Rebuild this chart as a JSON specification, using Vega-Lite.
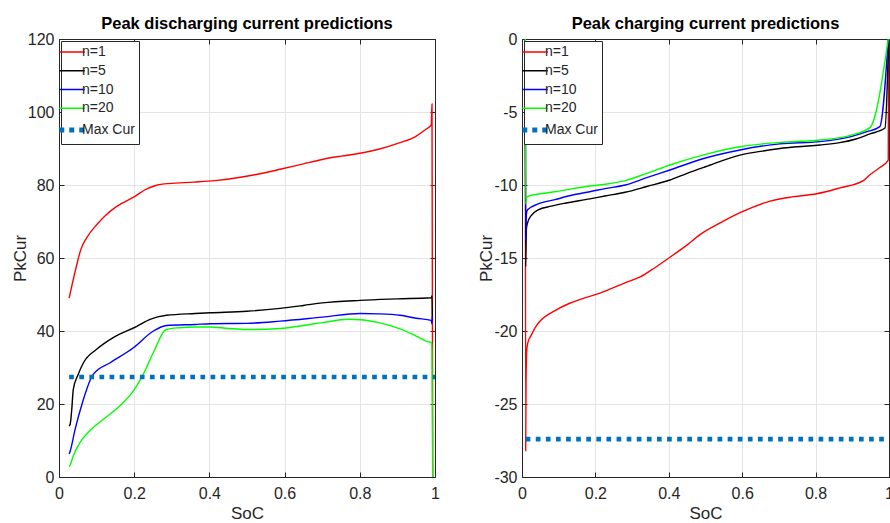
{
  "$schema": "https://vega.github.io/schema/vega-lite/v6.json",
  "padding": {"left": 10, "top": 15, "right": 0, "bottom": 0},
  "background": "white",
  "config": {
    "font": "Liberation Sans",
    "view": {"stroke": "#262626", "strokeWidth": 1},
    "axis": {
      "labelFont": "Liberation Sans", "labelFontSize": 16, "labelColor": "#262626",
      "titleFont": "Liberation Sans", "titleFontSize": 17, "titleFontWeight": "normal", "titleColor": "#262626",
      "domainColor": "#262626", "domainWidth": 1, "tickColor": "#262626", "tickSize": -5, "tickWidth": 1,
      "gridColor": "#e4e4e4", "gridWidth": 1, "labelFlush": false, "labelOverlap": false
    },
    "legend": {
      "orient": "top-left", "offset": 2, "title": null, "symbolType": "stroke", "symbolSize": 650,
      "symbolStrokeWidth": 1.5, "labelFont": "Liberation Sans", "labelFontSize": 14, "labelColor": "#262626",
      "labelOffset": 3, "padding": 4, "rowPadding": 4.75, "strokeColor": "#262626", "fillColor": "white",
      "cornerRadius": 0, "strokeWidth": 1
    },
    "title": {"font": "Liberation Sans", "fontSize": 16.5, "fontWeight": "bold", "color": "#000000", "offset": -1, "anchor": "middle"}
  },
  "datasets": {
    "dis": [
      {"s":"n=1","x":0.027,"y":49.0},{"s":"n=1","x":0.035,"y":52.8},{"s":"n=1","x":0.045,"y":57.2},{"s":"n=1","x":0.058,"y":62.3},{"s":"n=1","x":0.074,"y":65.6},{"s":"n=1","x":0.1,"y":69.1},{"s":"n=1","x":0.125,"y":71.8},{"s":"n=1","x":0.149,"y":73.8},{"s":"n=1","x":0.175,"y":75.4},{"s":"n=1","x":0.202,"y":76.9},{"s":"n=1","x":0.229,"y":78.7},{"s":"n=1","x":0.255,"y":79.8},{"s":"n=1","x":0.28,"y":80.3},{"s":"n=1","x":0.309,"y":80.5},{"s":"n=1","x":0.36,"y":80.8},{"s":"n=1","x":0.415,"y":81.2},{"s":"n=1","x":0.47,"y":81.9},{"s":"n=1","x":0.521,"y":82.8},{"s":"n=1","x":0.588,"y":84.3},{"s":"n=1","x":0.65,"y":85.8},{"s":"n=1","x":0.7,"y":87.0},{"s":"n=1","x":0.75,"y":87.9},{"s":"n=1","x":0.801,"y":88.7},{"s":"n=1","x":0.85,"y":89.8},{"s":"n=1","x":0.907,"y":91.6},{"s":"n=1","x":0.947,"y":93.2},{"s":"n=1","x":0.975,"y":95.2},{"s":"n=1","x":0.99,"y":96.5},{"s":"n=1","x":0.992,"y":102.2},{"s":"n=1","x":0.994,"y":0},
      {"s":"n=5","x":0.027,"y":14.0},{"s":"n=5","x":0.03,"y":14.6},{"s":"n=5","x":0.034,"y":18.6},{"s":"n=5","x":0.038,"y":24.0},{"s":"n=5","x":0.051,"y":28.1},{"s":"n=5","x":0.065,"y":31.3},{"s":"n=5","x":0.1,"y":35.0},{"s":"n=5","x":0.144,"y":38.2},{"s":"n=5","x":0.207,"y":41.3},{"s":"n=5","x":0.242,"y":43.2},{"s":"n=5","x":0.286,"y":44.3},{"s":"n=5","x":0.362,"y":44.8},{"s":"n=5","x":0.402,"y":45.0},{"s":"n=5","x":0.5,"y":45.4},{"s":"n=5","x":0.588,"y":46.2},{"s":"n=5","x":0.65,"y":47.0},{"s":"n=5","x":0.7,"y":47.7},{"s":"n=5","x":0.801,"y":48.4},{"s":"n=5","x":0.9,"y":48.8},{"s":"n=5","x":0.99,"y":49.1},{"s":"n=5","x":0.992,"y":49.6},{"s":"n=5","x":0.993,"y":43.0},
      {"s":"n=10","x":0.027,"y":6.3},{"s":"n=10","x":0.03,"y":7.2},{"s":"n=10","x":0.043,"y":13.1},{"s":"n=10","x":0.065,"y":21.3},{"s":"n=10","x":0.084,"y":26.8},{"s":"n=10","x":0.091,"y":28.1},{"s":"n=10","x":0.136,"y":31.3},{"s":"n=10","x":0.198,"y":35.4},{"s":"n=10","x":0.251,"y":40.0},{"s":"n=10","x":0.286,"y":41.5},{"s":"n=10","x":0.362,"y":41.8},{"s":"n=10","x":0.402,"y":42.0},{"s":"n=10","x":0.5,"y":42.1},{"s":"n=10","x":0.588,"y":42.7},{"s":"n=10","x":0.7,"y":43.8},{"s":"n=10","x":0.801,"y":44.8},{"s":"n=10","x":0.85,"y":44.7},{"s":"n=10","x":0.907,"y":44.3},{"s":"n=10","x":0.95,"y":43.5},{"s":"n=10","x":0.99,"y":42.9},{"s":"n=10","x":0.992,"y":42.0},{"s":"n=10","x":0.993,"y":44.0},
      {"s":"n=20","x":0.027,"y":2.8},{"s":"n=20","x":0.029,"y":3.1},{"s":"n=20","x":0.038,"y":5.8},{"s":"n=20","x":0.056,"y":9.5},{"s":"n=20","x":0.082,"y":12.7},{"s":"n=20","x":0.118,"y":15.8},{"s":"n=20","x":0.162,"y":19.5},{"s":"n=20","x":0.198,"y":23.6},{"s":"n=20","x":0.224,"y":28.1},{"s":"n=20","x":0.251,"y":34.1},{"s":"n=20","x":0.285,"y":40.4},{"s":"n=20","x":0.32,"y":40.9},{"s":"n=20","x":0.362,"y":41.1},{"s":"n=20","x":0.402,"y":41.1},{"s":"n=20","x":0.45,"y":40.7},{"s":"n=20","x":0.5,"y":40.4},{"s":"n=20","x":0.588,"y":40.7},{"s":"n=20","x":0.65,"y":41.5},{"s":"n=20","x":0.7,"y":42.3},{"s":"n=20","x":0.77,"y":43.2},{"s":"n=20","x":0.801,"y":43.1},{"s":"n=20","x":0.85,"y":42.3},{"s":"n=20","x":0.907,"y":40.6},{"s":"n=20","x":0.95,"y":38.6},{"s":"n=20","x":0.985,"y":37.0},{"s":"n=20","x":0.991,"y":36.9},{"s":"n=20","x":0.992,"y":34.0},{"s":"n=20","x":0.994,"y":0},
      {"s":"Max Cur","x":0.027,"y":27.4},{"s":"Max Cur","x":1,"y":27.4}
    ],
    "chg": [
      {"s":"n=1","x":0.009,"y":0},{"s":"n=1","x":0.01,"y":-28.2},{"s":"n=1","x":0.011,"y":-23.5},{"s":"n=1","x":0.013,"y":-21.3},{"s":"n=1","x":0.016,"y":-20.8},{"s":"n=1","x":0.025,"y":-20.3},{"s":"n=1","x":0.035,"y":-19.8},{"s":"n=1","x":0.05,"y":-19.3},{"s":"n=1","x":0.09,"y":-18.6},{"s":"n=1","x":0.13,"y":-18.1},{"s":"n=1","x":0.176,"y":-17.7},{"s":"n=1","x":0.213,"y":-17.4},{"s":"n=1","x":0.281,"y":-16.7},{"s":"n=1","x":0.322,"y":-16.3},{"s":"n=1","x":0.36,"y":-15.7},{"s":"n=1","x":0.403,"y":-14.95},{"s":"n=1","x":0.45,"y":-14.1},{"s":"n=1","x":0.485,"y":-13.4},{"s":"n=1","x":0.54,"y":-12.6},{"s":"n=1","x":0.594,"y":-11.9},{"s":"n=1","x":0.676,"y":-11.1},{"s":"n=1","x":0.74,"y":-10.8},{"s":"n=1","x":0.803,"y":-10.6},{"s":"n=1","x":0.866,"y":-10.2},{"s":"n=1","x":0.93,"y":-9.7},{"s":"n=1","x":0.948,"y":-9.3},{"s":"n=1","x":0.975,"y":-8.8},{"s":"n=1","x":0.998,"y":-8.3},{"s":"n=1","x":0.999,"y":0},
      {"s":"n=5","x":0.009,"y":0},{"s":"n=5","x":0.01,"y":-15.6},{"s":"n=5","x":0.012,"y":-13.0},{"s":"n=5","x":0.015,"y":-12.6},{"s":"n=5","x":0.025,"y":-12.1},{"s":"n=5","x":0.044,"y":-11.7},{"s":"n=5","x":0.08,"y":-11.45},{"s":"n=5","x":0.117,"y":-11.25},{"s":"n=5","x":0.185,"y":-10.95},{"s":"n=5","x":0.226,"y":-10.75},{"s":"n=5","x":0.281,"y":-10.5},{"s":"n=5","x":0.34,"y":-10.1},{"s":"n=5","x":0.403,"y":-9.66},{"s":"n=5","x":0.45,"y":-9.2},{"s":"n=5","x":0.5,"y":-8.75},{"s":"n=5","x":0.594,"y":-7.95},{"s":"n=5","x":0.65,"y":-7.7},{"s":"n=5","x":0.703,"y":-7.5},{"s":"n=5","x":0.75,"y":-7.38},{"s":"n=5","x":0.812,"y":-7.26},{"s":"n=5","x":0.866,"y":-7.1},{"s":"n=5","x":0.91,"y":-6.85},{"s":"n=5","x":0.948,"y":-6.5},{"s":"n=5","x":0.989,"y":-6.1},{"s":"n=5","x":0.999,"y":0},
      {"s":"n=10","x":0.009,"y":0},{"s":"n=10","x":0.01,"y":-13.8},{"s":"n=10","x":0.012,"y":-12.0},{"s":"n=10","x":0.015,"y":-11.7},{"s":"n=10","x":0.044,"y":-11.3},{"s":"n=10","x":0.09,"y":-11.0},{"s":"n=10","x":0.135,"y":-10.7},{"s":"n=10","x":0.185,"y":-10.46},{"s":"n=10","x":0.226,"y":-10.25},{"s":"n=10","x":0.281,"y":-10.0},{"s":"n=10","x":0.34,"y":-9.5},{"s":"n=10","x":0.403,"y":-8.97},{"s":"n=10","x":0.5,"y":-8.15},{"s":"n=10","x":0.594,"y":-7.6},{"s":"n=10","x":0.65,"y":-7.35},{"s":"n=10","x":0.703,"y":-7.18},{"s":"n=10","x":0.812,"y":-7.03},{"s":"n=10","x":0.894,"y":-6.7},{"s":"n=10","x":0.94,"y":-6.35},{"s":"n=10","x":0.975,"y":-6.0},{"s":"n=10","x":0.998,"y":0},
      {"s":"n=20","x":0.009,"y":0},{"s":"n=20","x":0.01,"y":-11.3},{"s":"n=20","x":0.012,"y":-10.9},{"s":"n=20","x":0.015,"y":-10.8},{"s":"n=20","x":0.05,"y":-10.6},{"s":"n=20","x":0.09,"y":-10.46},{"s":"n=20","x":0.185,"y":-10.07},{"s":"n=20","x":0.226,"y":-9.95},{"s":"n=20","x":0.281,"y":-9.7},{"s":"n=20","x":0.34,"y":-9.2},{"s":"n=20","x":0.403,"y":-8.63},{"s":"n=20","x":0.5,"y":-7.9},{"s":"n=20","x":0.594,"y":-7.38},{"s":"n=20","x":0.65,"y":-7.2},{"s":"n=20","x":0.703,"y":-7.08},{"s":"n=20","x":0.812,"y":-6.92},{"s":"n=20","x":0.894,"y":-6.6},{"s":"n=20","x":0.948,"y":-6.07},{"s":"n=20","x":0.998,"y":0},
      {"s":"Max Cur","x":0.01,"y":-27.4},{"s":"Max Cur","x":1,"y":-27.4}
    ]
  },
  "spacing": 87,
  "bounds": "flush",
  "resolve": {"scale": {"color": "independent"}, "legend": {"color": "independent"}},
  "hconcat": [
    {
      "title": {"text": "Peak discharging current predictions"},
      "width": 376, "height": 438,
      "data": {"name": "dis"},
      "resolve": {"axis": {"x": "independent", "y": "independent"}},
      "layer": [
        {
          "transform": [{"filter": "datum.s !== 'Max Cur'"}],
          "mark": {"type": "line", "strokeWidth": 1.4, "clip": true, "interpolate": "monotone"},
          "encoding": {
            "x": {"field": "x", "type": "quantitative", "scale": {"domain": [0, 1], "nice": false, "zero": false},
                  "axis": {"orient": "bottom", "title": "SoC", "values": [0, 0.2, 0.4, 0.6, 0.8, 1], "labelExpr": "'' + datum.value", "labelPadding": 13, "titlePadding": 4}},
            "y": {"field": "y", "type": "quantitative", "scale": {"domain": [0, 120], "nice": false, "zero": false},
                  "axis": {"orient": "left", "title": "PkCur", "values": [0, 20, 40, 60, 80, 100, 120], "labelExpr": "'' + datum.value", "labelPadding": 10, "titlePadding": -2}},
            "color": {"field": "s", "type": "nominal",
                      "scale": {"domain": ["n=1", "n=5", "n=10", "n=20", "Max Cur"], "range": ["#ff0000", "#000000", "#0000ff", "#00ff00", "#0072bd"]},
                      "legend": {"encode": {"symbols": {"update": {
                        "strokeDash": {"signal": "datum.value === 'Max Cur' ? [5, 5] : [1, 0]"},
                        "strokeWidth": {"signal": "datum.value === 'Max Cur' ? 5 : 1.5"}}}}}}
          }
        },
        {
          "transform": [{"filter": "datum.s === 'Max Cur'"}],
          "mark": {"type": "line", "strokeWidth": 4.7, "strokeDash": [4.7, 5.4], "strokeCap": "butt", "clip": true},
          "encoding": {
            "x": {"field": "x", "type": "quantitative", "scale": {"domain": [0, 1], "nice": false, "zero": false},
                  "axis": {"orient": "top", "title": null, "labels": false, "grid": false, "minExtent": 0, "maxExtent": 0, "values": [0, 0.2, 0.4, 0.6, 0.8, 1]}},
            "y": {"field": "y", "type": "quantitative", "scale": {"domain": [0, 120], "nice": false, "zero": false},
                  "axis": {"orient": "right", "title": null, "labels": false, "grid": false, "minExtent": 0, "maxExtent": 0, "values": [0, 20, 40, 60, 80, 100, 120]}},
            "color": {"field": "s", "type": "nominal"}
          }
        }
      ]
    },
    {
      "title": {"text": "Peak charging current predictions"},
      "width": 367, "height": 438,
      "data": {"name": "chg"},
      "resolve": {"axis": {"x": "independent", "y": "independent"}},
      "layer": [
        {
          "transform": [{"filter": "datum.s !== 'Max Cur'"}],
          "mark": {"type": "line", "strokeWidth": 1.4, "clip": true, "interpolate": "monotone"},
          "encoding": {
            "x": {"field": "x", "type": "quantitative", "scale": {"domain": [0, 1], "nice": false, "zero": false},
                  "axis": {"orient": "bottom", "title": "SoC", "values": [0, 0.2, 0.4, 0.6, 0.8, 1], "labelExpr": "'' + datum.value", "labelPadding": 13, "titlePadding": 4}},
            "y": {"field": "y", "type": "quantitative", "scale": {"domain": [-30, 0], "nice": false, "zero": false},
                  "axis": {"orient": "left", "title": "PkCur", "values": [-30, -25, -20, -15, -10, -5, 0], "labelExpr": "'' + datum.value", "labelPadding": 10, "titlePadding": -2}},
            "color": {"field": "s", "type": "nominal",
                      "scale": {"domain": ["n=1", "n=5", "n=10", "n=20", "Max Cur"], "range": ["#ff0000", "#000000", "#0000ff", "#00ff00", "#0072bd"]},
                      "legend": {"encode": {"symbols": {"update": {
                        "strokeDash": {"signal": "datum.value === 'Max Cur' ? [5, 5] : [1, 0]"},
                        "strokeWidth": {"signal": "datum.value === 'Max Cur' ? 5 : 1.5"}}}}}}
          }
        },
        {
          "transform": [{"filter": "datum.s === 'Max Cur'"}],
          "mark": {"type": "line", "strokeWidth": 4.7, "strokeDash": [4.7, 5.4], "strokeCap": "butt", "clip": true},
          "encoding": {
            "x": {"field": "x", "type": "quantitative", "scale": {"domain": [0, 1], "nice": false, "zero": false},
                  "axis": {"orient": "top", "title": null, "labels": false, "grid": false, "minExtent": 0, "maxExtent": 0, "values": [0, 0.2, 0.4, 0.6, 0.8, 1]}},
            "y": {"field": "y", "type": "quantitative", "scale": {"domain": [-30, 0], "nice": false, "zero": false},
                  "axis": {"orient": "right", "title": null, "labels": false, "grid": false, "minExtent": 0, "maxExtent": 0, "values": [-30, -25, -20, -15, -10, -5, 0]}},
            "color": {"field": "s", "type": "nominal"}
          }
        }
      ]
    }
  ]
}
